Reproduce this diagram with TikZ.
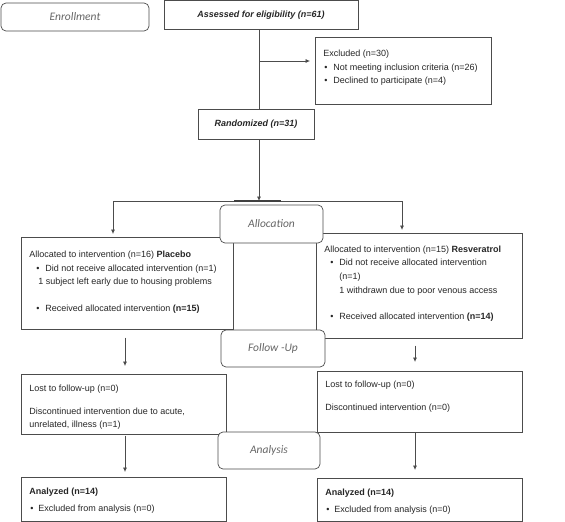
\documentclass[tikz,border=0pt]{standalone}
\usepackage{fontspec}
\setmainfont{Liberation Sans}
\newfontfamily\stagefont{Carlito}
\usetikzlibrary{arrows.meta}

\definecolor{linegray}{gray}{0.3}
\definecolor{stagegray}{gray}{0.4}
\definecolor{textgray}{gray}{0.15}
\newcommand{\bodyfont}{\fontsize{9}{13.4}\selectfont}
% box text: width, height, gap above first line, text
\newcommand{\boxbody}[4]{\parbox[c][#2][t]{#1}{\vspace*{#3}\strut#4}}
\newcommand{\bul}{\makebox[9pt][l]{\textbullet}}

\begin{document}
\begin{tikzpicture}[
    x=1pt, y=-1pt,
    line width=0.7pt,
    StageShape/.style={rectangle, rounded corners=5pt, draw=linegray,
        fill=white, text=stagegray, inner sep=0pt,
        font={\stagefont\itshape\fontsize{11.5}{14}\selectfont}},
    TitleShape/.style={rectangle, draw=linegray, text=textgray, inner sep=0pt,
        font={\bfseries\itshape\fontsize{9}{11}\selectfont}},
    BoxShape/.style={rectangle, draw=linegray, anchor=north west,
        inner xsep=8pt, inner ysep=0pt, text=textgray, font=\bodyfont},
    flow/.style={draw=linegray, -{Latex[length=4.5pt,width=4pt]}}
]
\useasboundingbox (0,0) rectangle (565,522);

\node (assess) [TitleShape, minimum width=194pt, minimum height=29pt]
    at (261,15) {Assessed for eligibility (n=61)};
\node (random) [TitleShape, minimum width=116pt, minimum height=30pt]
    at (256,124) {Randomized (n=31)};

\node (excl) [BoxShape] at (315,37) {\boxbody{160pt}{67pt}{10pt}{%
    Excluded (n=30)\\
    \hspace*{1pt}\bul Not meeting inclusion criteria (n=26)\\
    \hspace*{1pt}\bul Declined to participate (n=4)}};

\node (placebo) [BoxShape] at (21,237) {\boxbody{196pt}{92pt}{11pt}{%
    Allocated to intervention (n=16) \textbf{Placebo}\\
    \hspace*{7pt}\bul Did not receive allocated intervention (n=1)\\
    \hspace*{9pt}1 subject left early due to housing problems\\[14pt]
    \hspace*{7pt}\bul Received allocated intervention \textbf{(n=15)}}};

\node (resv) [BoxShape] at (316,233) {\boxbody{190pt}{105pt}{9.5pt}{%
    Allocated to intervention (n=15) \textbf{Resveratrol}\\
    \hspace*{6pt}\bul Did not receive allocated intervention\\
    \hspace*{15pt}(n=1)\\[1.5pt]
    \hspace*{15pt}1 withdrawn due to poor venous access\\[12pt]
    \hspace*{6pt}\bul Received allocated intervention \textbf{(n=14)}}};

\node (lostL) [BoxShape] at (21,374) {\boxbody{189pt}{60pt}{8pt}{%
    Lost to follow-up (n=0)\\[9.6pt]
    Discontinued intervention due to acute,\\[-1pt]
    unrelated, illness (n=1)}};

\node (lostR) [BoxShape] at (317,371) {\boxbody{189pt}{61pt}{7pt}{%
    Lost to follow-up (n=0)\\[9.6pt]
    Discontinued intervention (n=0)}};

\node (anaL) [BoxShape] at (21,477) {\boxbody{189pt}{44pt}{8pt}{%
    \textbf{Analyzed (n=14)}\\[3.6pt]
    \hspace*{1pt}\makebox[8pt][l]{\textbullet}Excluded from analysis (n=0)}};

\node (anaR) [BoxShape] at (317,478) {\boxbody{189pt}{43pt}{8pt}{%
    \textbf{Analyzed (n=14)}\\[3.6pt]
    \hspace*{1pt}\makebox[8pt][l]{\textbullet}Excluded from analysis (n=0)}};

\coordinate (trunk) at (259,61);
\coordinate (split) at (259,201);
\coordinate (splitL) at (113,201);
\coordinate (splitR) at (402,201);
\coordinate (colL) at (125,0);
\coordinate (colR) at (415,0);

% enrollment
\draw[draw=linegray] (assess.south -| split) -- (random.north -| split);
\draw[flow, shorten >=5pt] (trunk) -- (trunk -| excl.west);
\draw[flow] (random.south -| split) -- (split);

% allocation split
\draw[draw=linegray] (splitL) -- (splitR);
\draw[draw=black!75, line width=1.3pt] ([xshift=-25pt]split) -- ([xshift=22pt]split);
\draw[flow, shorten >=3pt] (splitL) -- (splitL |- placebo.north);
\draw[flow, shorten >=3pt] (splitR) -- (splitR |- resv.north);

% follow-up and analysis
\draw[flow, shorten <=8pt, shorten >=8pt] (placebo.south -| colL) -- (lostL.north -| colL);
\draw[flow, shorten <=7pt, shorten >=9pt] (resv.south -| colR) -- (lostR.north -| colR);
\draw[flow, shorten <=1pt, shorten >=5pt] (lostL.south -| colL) -- (anaL.north -| colL);
\draw[flow, shorten >=8pt] (lostR.south -| colR) -- (anaR.north -| colR);

% stage labels
\node (enrol) [StageShape, minimum width=148pt, minimum height=28pt] at (75,17) {Enrollment};
\node (alloc) [StageShape, minimum width=103pt, minimum height=38pt] at (271.5,224) {Allocation};
\node (follow) [StageShape, minimum width=104pt, minimum height=37pt] at (273,348.5) {Follow -Up};
\node (analysis) [StageShape, minimum width=102pt, minimum height=37pt] at (269,450.5) {Analysis};
\end{tikzpicture}
\end{document}
